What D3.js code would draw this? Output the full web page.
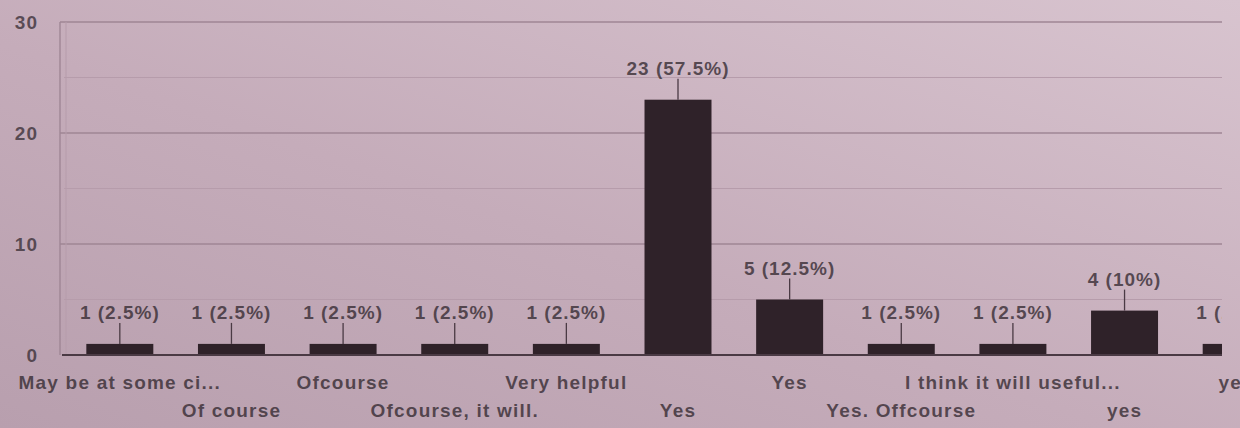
<!DOCTYPE html>
<html>
<head>
<meta charset="utf-8">
<script src="https://cdn.jsdelivr.net/npm/d3@7"></script>
<style>
  html, body { margin: 0; padding: 0; background: #c6aebc; }
  svg { display: block; }
  text { font-family: "Liberation Sans", Arial, sans-serif; }
</style>
</head>
<body>
<div id="chart"></div>
<script>
// Responses to the question, one bar per distinct answer text
const categories = ["May be at some ci...", "Of course", "Ofcourse", "Ofcourse, it will.", "Very helpful",
                    "Yes", "Yes", "Yes. Offcourse", "I think it will useful...", "yes", "yes"];
const counts = [1, 1, 1, 1, 1, 23, 5, 1, 1, 4, 1];
const totalResponses = 40;
const yTicks = [0, 10, 20, 30];
const yMinorTicks = [5, 15, 25];

const width = 1240, height = 428;

const svg = d3.select("#chart").append("svg")
  .attr("width", width).attr("height", height);

const defs = svg.append("defs");
const bg = defs.append("linearGradient").attr("id", "paper")
  .attr("x1", "0%").attr("y1", "100%").attr("x2", "100%").attr("y2", "0%");
bg.append("stop").attr("offset", "0%").attr("stop-color", "#b89fae");
bg.append("stop").attr("offset", "45%").attr("stop-color", "#c5acba");
bg.append("stop").attr("offset", "100%").attr("stop-color", "#d8c4cf");
svg.append("rect").attr("width", width).attr("height", height).attr("fill", "url(#paper)");

defs.append("clipPath").attr("id", "plotClip")
  .append("rect").attr("x", 0).attr("y", 0).attr("width", 1222).attr("height", height);

const x = d3.scaleBand()
  .domain(d3.range(categories.length))
  .range([64, 1292])
  .paddingInner(0.4)
  .paddingOuter(0.2);

const y = d3.scaleLinear().domain([0, 30]).range([355, 22]);

const ink = "#2f252c";
const fontSize = 19;
const plot = svg.append("g").attr("clip-path", "url(#plotClip)");

// minor gridlines
plot.selectAll("line.minor").data(yMinorTicks).join("line")
  .attr("class", "minor")
  .attr("x1", 64).attr("x2", 1222)
  .attr("y1", d => y(d)).attr("y2", d => y(d))
  .attr("stroke", "#b69cab").attr("stroke-width", 1.2);

// major gridlines
plot.selectAll("line.major").data(yTicks.filter(d => d > 0)).join("line")
  .attr("class", "major")
  .attr("x1", 60).attr("x2", 1222)
  .attr("y1", d => y(d)).attr("y2", d => y(d))
  .attr("stroke", "#9f8695").attr("stroke-width", 1.4);

// chart area frame on the left
plot.append("line")
  .attr("x1", 60).attr("x2", 60).attr("y1", y(30)).attr("y2", y(0))
  .attr("stroke", "#9f8695").attr("stroke-width", 1.4);
plot.append("line")
  .attr("x1", 66).attr("x2", 66).attr("y1", y(30)).attr("y2", y(0))
  .attr("stroke", "#b69cab").attr("stroke-width", 1);

// y axis labels
const yAxis = d3.axisLeft(y).tickValues(yTicks).tickSize(0).tickPadding(0);
const yg = svg.append("g").attr("transform", "translate(38,0)").call(yAxis);
yg.select(".domain").remove();
yg.selectAll("text")
  .attr("fill", ink).attr("font-size", fontSize).attr("font-weight", "bold")
  .attr("letter-spacing", 1)
  .attr("font-family", "'Liberation Sans', Arial, sans-serif")
  .attr("fill-opacity", 0.72);

// bars
plot.selectAll("rect.bar").data(counts).join("rect")
  .attr("class", "bar")
  .attr("x", (d, i) => x(i))
  .attr("width", x.bandwidth())
  .attr("y", d => y(d))
  .attr("height", d => y(0) - y(d))
  .attr("fill", "#2f2229");

// baseline
plot.append("line")
  .attr("x1", 62).attr("x2", 1222).attr("y1", y(0)).attr("y2", y(0))
  .attr("stroke", "#4a3a44").attr("stroke-width", 2);

// value labels with short leader stems
const fmtPct = v => d3.format(".1~f")(v);
plot.selectAll("line.stem").data(counts).join("line")
  .attr("class", "stem")
  .attr("x1", (d, i) => x(i) + x.bandwidth() / 2)
  .attr("x2", (d, i) => x(i) + x.bandwidth() / 2)
  .attr("y1", d => y(d) - 21).attr("y2", d => y(d))
  .attr("stroke", "#4a3a44").attr("stroke-width", 1.3);

plot.selectAll("text.value").data(counts).join("text")
  .attr("class", "value")
  .attr("x", (d, i) => x(i) + x.bandwidth() / 2)
  .attr("y", d => y(d) - 25)
  .attr("text-anchor", "middle")
  .attr("font-size", fontSize).attr("font-weight", "bold")
  .attr("letter-spacing", 1)
  .attr("fill", ink).attr("fill-opacity", 0.75)
  .text(d => `${d} (${fmtPct(d / totalResponses * 100)}%)`);

// category labels, staggered on two rows
svg.selectAll("text.cat").data(categories).join("text")
  .attr("class", "cat")
  .attr("x", (d, i) => x(i) + x.bandwidth() / 2)
  .attr("y", (d, i) => i % 2 === 0 ? 389 : 417)
  .attr("text-anchor", "middle")
  .attr("font-size", fontSize).attr("font-weight", "bold")
  .attr("letter-spacing", 1.2)
  .attr("fill", ink).attr("fill-opacity", 0.75)
  .text(d => d);
</script>
</body>
</html>
